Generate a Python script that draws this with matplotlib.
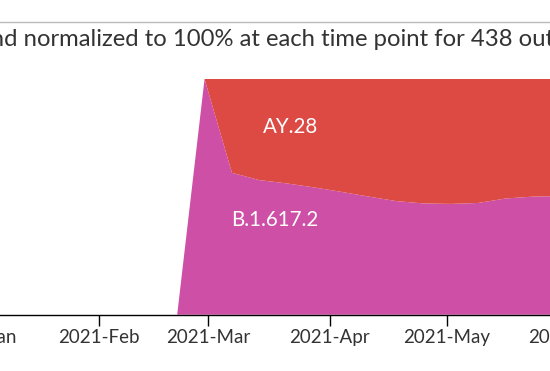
import numpy as np
import pandas as pd
import matplotlib
matplotlib.use("Agg")
import matplotlib.pyplot as plt
import matplotlib.dates as mdates
from matplotlib.lines import Line2D

plt.rcParams["font.family"] = ["Lato", "DejaVu Sans"]

# weekly share of each lineage (normalized to 100%)
weeks = pd.to_datetime([
    "2021-02-21", "2021-02-28", "2021-03-07", "2021-03-14", "2021-03-21",
    "2021-03-28", "2021-04-04", "2021-04-11", "2021-04-18", "2021-04-25",
    "2021-05-02", "2021-05-09", "2021-05-16", "2021-05-23", "2021-05-30",
    "2021-06-06",
])
b16172 = [0.0, 1.0, 0.602, 0.571, 0.557, 0.540, 0.521, 0.501, 0.482, 0.472,
          0.470, 0.474, 0.493, 0.501, 0.503, 0.503]
ay28 = [0.0, 0.0, 0.398, 0.429, 0.443, 0.460, 0.479, 0.499, 0.518, 0.528,
        0.530, 0.526, 0.507, 0.499, 0.497, 0.497]
lineages = ["B.1.617.2", "AY.28"]
colors = ["#CD4FA6", "#DC4A43"]

subtitle = "and normalized to 100% at each time point for 438 out of"

fig = plt.figure(figsize=(5.5, 3.71), dpi=100)
# the visible picture is a crop of a wider chart, so the axes runs past the edges
ax = fig.add_axes([-0.0902, 0.1518, 1.1873, 0.6353])

ax.stackplot(weeks, b16172, ay28, colors=colors, linewidth=0)

ax.set_xlim(pd.Timestamp("2020-12-25"), pd.Timestamp("2021-06-10"))
ax.set_ylim(0, 1)

ax.xaxis.set_major_locator(mdates.MonthLocator())
ax.xaxis.set_major_formatter(mdates.DateFormatter("%Y-%b"))
ax.tick_params(axis="x", length=8, width=1, pad=2, labelsize=13.5,
               labelcolor="#333333")
ax.set_yticks([])
for side in ["left", "top", "right"]:
    ax.spines[side].set_visible(False)
ax.spines["bottom"].set_linewidth(1)

# lineage labels inside the areas
ax.text(pd.Timestamp("2021-03-22"), 0.795, lineages[1], color="white",
        fontsize=14.8, ha="center", va="center")
ax.text(pd.Timestamp("2021-03-18"), 0.40, lineages[0], color="white",
        fontsize=14.8, ha="center", va="center")

# header rule and subtitle
fig.add_artist(Line2D([0, 1], [0.9399, 0.9399], color="#bbbbbb", lw=1))
fig.text(-0.039, 0.876, subtitle, fontsize=17.2, color="#333333",
         ha="left", va="baseline")

fig.savefig("out.png", dpi=100)
